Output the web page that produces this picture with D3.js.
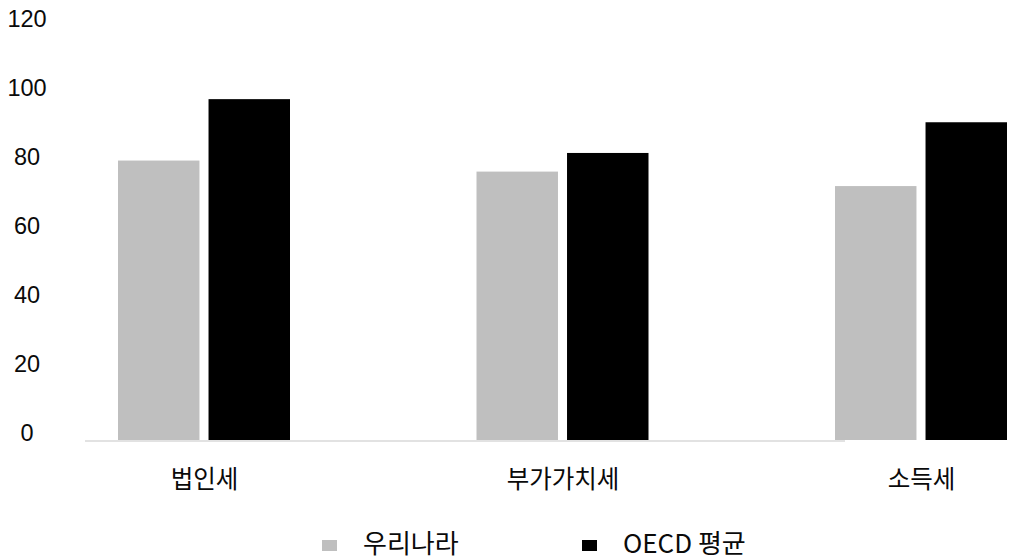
<!DOCTYPE html>
<html>
<head>
<meta charset="utf-8">
<script src="https://cdn.jsdelivr.net/npm/d3@7"></script>
<style>
  html, body { margin: 0; padding: 0; background: #fff; }
  svg { display: block; }
</style>
</head>
<body>
<svg id="chart" width="1011" height="559"></svg>
<script>
// ---- data ----
const categories = ["법인세", "부가가치세", "소득세"];
const seriesNames = ["우리나라", "OECD 평균"];
const koreaValues = [81, 77.8, 73.6];
const oecdValues = [98.8, 83.2, 92.1];
const yTicks = [0, 20, 40, 60, 80, 100, 120];
const seriesColors = ["#bfbfbf", "#000000"];

const rows = categories.map((c, i) => ({
  category: c,
  values: [
    { key: seriesNames[0], value: koreaValues[i] },
    { key: seriesNames[1], value: oecdValues[i] }
  ]
}));

const svg = d3.select("#chart");

const y = d3.scaleLinear().domain([0, 120]).range([440, 26]);
const x0 = d3.scalePoint().domain(categories).range([204, 921]);
const x1 = d3.scaleBand().domain(seriesNames).range([-86, 86]).paddingInner(0.1);
const color = d3.scaleOrdinal().domain(seriesNames).range(seriesColors);

// y axis labels (no line, no ticks)
const yAxis = d3.axisLeft(y).tickValues(yTicks).tickSize(0).tickPadding(0);
const gy = svg.append("g").attr("transform", "translate(27,-7)").call(yAxis);
gy.select(".domain").remove();
gy.selectAll("text")
  .attr("text-anchor", "middle")
  .attr("x", 0)
  .attr("font-family", "'Liberation Sans', Arial, sans-serif")
  .attr("font-size", 23.5)
  .attr("fill", "#0a0a0a");

// faint baseline
svg.append("line")
  .attr("x1", 85).attr("x2", 845)
  .attr("y1", y(0) + 1).attr("y2", y(0) + 1)
  .attr("stroke", "#e2e2e2")
  .attr("stroke-width", 2);

// bars
const groups = svg.append("g").selectAll("g")
  .data(rows)
  .join("g")
  .attr("transform", d => `translate(${x0(d.category)},0)`);

groups.selectAll("rect")
  .data(d => d.values)
  .join("rect")
  .attr("x", d => x1(d.key))
  .attr("width", x1.bandwidth())
  .attr("y", d => y(d.value))
  .attr("height", d => y(0) - y(d.value))
  .attr("fill", d => color(d.key));

// category labels
const xAxis = d3.axisBottom(x0).tickSize(0).tickPadding(0);
const gx = svg.append("g").attr("transform", "translate(0,488)").call(xAxis);
gx.select(".domain").remove();
gx.selectAll("text")
  .attr("dy", 0)
  .attr("y", 0)
  .attr("font-family", "'Noto Sans CJK KR', sans-serif")
  .attr("font-size", 24.5)
  .attr("fill", "#0a0a0a");

// legend
const legend = svg.append("g").attr("transform", "translate(322,0)");
const items = legend.selectAll("g")
  .data(seriesNames)
  .join("g")
  .attr("transform", (d, i) => `translate(${i * 260},0)`);
items.append("rect")
  .attr("x", 0).attr("y", 540)
  .attr("width", 15).attr("height", 11)
  .attr("fill", d => color(d));
items.append("text")
  .attr("x", 41).attr("y", 553)
  .attr("font-family", "'Noto Sans CJK KR', sans-serif")
  .attr("font-size", 26)
  .attr("fill", "#0a0a0a")
  .text(d => d);
</script>
</body>
</html>
